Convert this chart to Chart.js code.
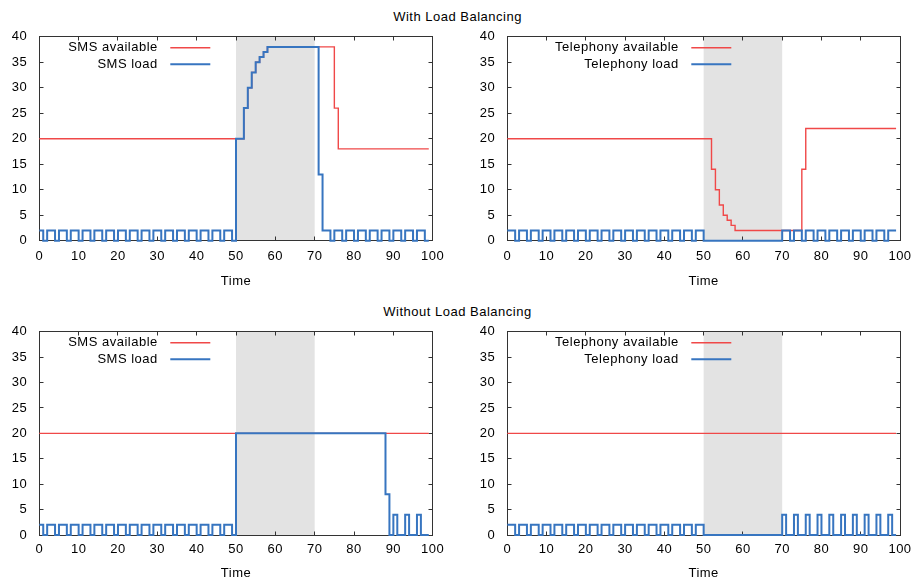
<!DOCTYPE html>
<html>
<head>
<meta charset="utf-8">
<title>Load balancing</title>
<script src="https://cdn.jsdelivr.net/npm/chart.js@4.4.1/dist/chart.umd.min.js"></script>
<style>
  body { margin: 0; background: #fff; }
  #page { position: relative; width: 915px; height: 581px; overflow: hidden; }
  canvas { position: absolute; }
  .title {
    position: absolute; left: 0; width: 915px; text-align: center;
    font: 13px "Liberation Sans", Arial, sans-serif; line-height: 14px;
    letter-spacing: 0.5px; color: #000;
  }
</style>
</head>
<body>
<div id="page">
  <div class="title" style="top: 9.5px">With Load Balancing</div>
  <div class="title" style="top: 304.5px">Without Load Balancing</div>
  <canvas id="smsLB" width="457" height="290" style="left:0;top:0"></canvas>
  <canvas id="telLB" width="458" height="290" style="left:457px;top:0"></canvas>
  <canvas id="smsNoLB" width="457" height="291" style="left:0;top:290px"></canvas>
  <canvas id="telNoLB" width="458" height="291" style="left:457px;top:290px"></canvas>
</div>
<script>
// sample times
const time = [
  0, 1, 2, 3, 4, 5, 6, 7, 8, 9,
  10, 11, 12, 13, 14, 15, 16, 17, 18, 19,
  20, 21, 22, 23, 24, 25, 26, 27, 28, 29,
  30, 31, 32, 33, 34, 35, 36, 37, 38, 39,
  40, 41, 42, 43, 44, 45, 46, 47, 48, 49,
  50, 51, 52, 53, 54, 55, 56, 57, 58, 59,
  60, 61, 62, 63, 64, 65, 66, 67, 68, 69,
  70, 71, 72, 73, 74, 75, 76, 77, 78, 79,
  80, 81, 82, 83, 84, 85, 86, 87, 88, 89,
  90, 91, 92, 93, 94, 95, 96, 97, 98, 99
];

// outage window (grey band)
const shadeRange = [50, 70];

// --- With load balancing ---
const smsAvailLB = [
  20, 20, 20, 20, 20, 20, 20, 20, 20, 20,
  20, 20, 20, 20, 20, 20, 20, 20, 20, 20,
  20, 20, 20, 20, 20, 20, 20, 20, 20, 20,
  20, 20, 20, 20, 20, 20, 20, 20, 20, 20,
  20, 20, 20, 20, 20, 20, 20, 20, 20, 20,
  20, 20, 26, 30, 33, 35, 36, 37, 38, 38,
  38, 38, 38, 38, 38, 38, 38, 38, 38, 38,
  38, 38, 38, 38, 38, 26, 18, 18, 18, 18,
  18, 18, 18, 18, 18, 18, 18, 18, 18, 18,
  18, 18, 18, 18, 18, 18, 18, 18, 18, 18
];
const smsLoadLB = [
  2, 0, 2, 2, 0, 2, 2, 0, 2, 2,
  0, 2, 2, 0, 2, 2, 0, 2, 2, 0,
  2, 2, 0, 2, 2, 0, 2, 2, 0, 2,
  2, 0, 2, 2, 0, 2, 2, 0, 2, 2,
  0, 2, 2, 0, 2, 2, 0, 2, 2, 0,
  20, 20, 26, 30, 33, 35, 36, 37, 38, 38,
  38, 38, 38, 38, 38, 38, 38, 38, 38, 38,
  38, 13, 2, 2, 0, 2, 2, 0, 2, 2,
  0, 2, 2, 0, 2, 2, 0, 2, 2, 0,
  2, 2, 0, 2, 2, 0, 2, 2, 0, 0
];
const telAvailLB = [
  20, 20, 20, 20, 20, 20, 20, 20, 20, 20,
  20, 20, 20, 20, 20, 20, 20, 20, 20, 20,
  20, 20, 20, 20, 20, 20, 20, 20, 20, 20,
  20, 20, 20, 20, 20, 20, 20, 20, 20, 20,
  20, 20, 20, 20, 20, 20, 20, 20, 20, 20,
  20, 20, 14, 10, 7, 5, 4, 3, 2, 2,
  2, 2, 2, 2, 2, 2, 2, 2, 2, 2,
  2, 2, 2, 2, 2, 14, 22, 22, 22, 22,
  22, 22, 22, 22, 22, 22, 22, 22, 22, 22,
  22, 22, 22, 22, 22, 22, 22, 22, 22, 22
];
const telLoadLB = [
  2, 2, 0, 2, 2, 0, 2, 2, 0, 2,
  2, 0, 2, 2, 0, 2, 2, 0, 2, 2,
  0, 2, 2, 0, 2, 2, 0, 2, 2, 0,
  2, 2, 0, 2, 2, 0, 2, 2, 0, 2,
  2, 0, 2, 2, 0, 2, 2, 0, 2, 2,
  0, 0, 0, 0, 0, 0, 0, 0, 0, 0,
  0, 0, 0, 0, 0, 0, 0, 0, 0, 0,
  2, 2, 0, 2, 2, 0, 2, 2, 0, 2,
  2, 0, 2, 2, 0, 2, 2, 0, 2, 2,
  0, 2, 2, 0, 2, 2, 0, 2, 2, 2
];

// --- Without load balancing ---
const smsAvailNoLB = [
  20, 20, 20, 20, 20, 20, 20, 20, 20, 20,
  20, 20, 20, 20, 20, 20, 20, 20, 20, 20,
  20, 20, 20, 20, 20, 20, 20, 20, 20, 20,
  20, 20, 20, 20, 20, 20, 20, 20, 20, 20,
  20, 20, 20, 20, 20, 20, 20, 20, 20, 20,
  20, 20, 20, 20, 20, 20, 20, 20, 20, 20,
  20, 20, 20, 20, 20, 20, 20, 20, 20, 20,
  20, 20, 20, 20, 20, 20, 20, 20, 20, 20,
  20, 20, 20, 20, 20, 20, 20, 20, 20, 20,
  20, 20, 20, 20, 20, 20, 20, 20, 20, 20
];
const smsLoadNoLB = [
  2, 0, 2, 2, 0, 2, 2, 0, 2, 2,
  0, 2, 2, 0, 2, 2, 0, 2, 2, 0,
  2, 2, 0, 2, 2, 0, 2, 2, 0, 2,
  2, 0, 2, 2, 0, 2, 2, 0, 2, 2,
  0, 2, 2, 0, 2, 2, 0, 2, 2, 0,
  20, 20, 20, 20, 20, 20, 20, 20, 20, 20,
  20, 20, 20, 20, 20, 20, 20, 20, 20, 20,
  20, 20, 20, 20, 20, 20, 20, 20, 20, 20,
  20, 20, 20, 20, 20, 20, 20, 20, 8, 0,
  4, 0, 0, 4, 0, 0, 4, 0, 0, 0
];
const telAvailNoLB = [
  20, 20, 20, 20, 20, 20, 20, 20, 20, 20,
  20, 20, 20, 20, 20, 20, 20, 20, 20, 20,
  20, 20, 20, 20, 20, 20, 20, 20, 20, 20,
  20, 20, 20, 20, 20, 20, 20, 20, 20, 20,
  20, 20, 20, 20, 20, 20, 20, 20, 20, 20,
  20, 20, 20, 20, 20, 20, 20, 20, 20, 20,
  20, 20, 20, 20, 20, 20, 20, 20, 20, 20,
  20, 20, 20, 20, 20, 20, 20, 20, 20, 20,
  20, 20, 20, 20, 20, 20, 20, 20, 20, 20,
  20, 20, 20, 20, 20, 20, 20, 20, 20, 20
];
const telLoadNoLB = [
  2, 2, 0, 2, 2, 0, 2, 2, 0, 2,
  2, 0, 2, 2, 0, 2, 2, 0, 2, 2,
  0, 2, 2, 0, 2, 2, 0, 2, 2, 0,
  2, 2, 0, 2, 2, 0, 2, 2, 0, 2,
  2, 0, 2, 2, 0, 2, 2, 0, 2, 2,
  0, 0, 0, 0, 0, 0, 0, 0, 0, 0,
  0, 0, 0, 0, 0, 0, 0, 0, 0, 0,
  4, 0, 0, 4, 0, 0, 4, 0, 0, 4,
  0, 0, 4, 0, 0, 4, 0, 0, 4, 0,
  0, 4, 0, 0, 4, 0, 0, 4, 0, 0
];

const RED = 'rgb(240, 72, 72)';
const BLUE = 'rgb(55, 117, 192)';
const FONT = { family: '"Liberation Sans", Arial, sans-serif', size: 13 };

// gnuplot-ish frame: grey band, border with inward ticks, key on the left
const frame = {
  id: 'frame',
  beforeDraw(chart) {
    chart.ctx.letterSpacing = '0.5px';
  },
  beforeDatasetsDraw(chart) {
    const { ctx, chartArea: a, scales: { x, y } } = chart;
    ctx.save();
    const x0 = x.getPixelForValue(shadeRange[0]);
    const x1 = x.getPixelForValue(shadeRange[1]);
    ctx.fillStyle = '#e3e3e3';
    ctx.fillRect(x0, a.top, x1 - x0, a.bottom - a.top);

    // snap the frame to whole pixels so it stays crisp
    const L = Math.floor(a.left) + 0.5, R = Math.floor(a.right) + 0.5;
    const T = Math.floor(a.top) + 0.5, B = Math.floor(a.bottom) + 0.5;
    ctx.strokeStyle = '#333';
    ctx.lineWidth = 1;
    ctx.strokeRect(L, T, R - L, B - T);
    ctx.beginPath();
    x.ticks.forEach(t => {
      const px = Math.floor(x.getPixelForValue(t.value)) + 0.5;
      ctx.moveTo(px, B); ctx.lineTo(px, B - 4);
      ctx.moveTo(px, T); ctx.lineTo(px, T + 4);
    });
    y.ticks.forEach(t => {
      const py = Math.floor(y.getPixelForValue(t.value)) + 0.5;
      ctx.moveTo(L, py); ctx.lineTo(L + 4, py);
      ctx.moveTo(R, py); ctx.lineTo(R - 4, py);
    });
    ctx.stroke();
    ctx.restore();
  },
  afterDatasetsDraw(chart, args, opts) {
    const { ctx, chartArea: a } = chart;
    ctx.save();
    ctx.font = '13px "Liberation Sans", Arial, sans-serif';
    ctx.textAlign = 'right';
    ctx.textBaseline = 'middle';
    chart.data.datasets.forEach((ds, i) => {
      const yy = a.top + 11 + i * 16.6;
      const sx = a.left + opts.keyX;
      ctx.fillStyle = '#000';
      ctx.fillText(ds.label, sx - 12.5, yy);
      ctx.strokeStyle = ds.borderColor;
      ctx.lineWidth = ds.borderWidth;
      ctx.beginPath();
      ctx.moveTo(sx, yy);
      ctx.lineTo(sx + 40, yy);
      ctx.stroke();
    });
    ctx.restore();
  }
};

function makeChart(id, names, avail, load, box) {
  return new Chart(document.getElementById(id), {
    type: 'line',
    data: {
      labels: time,
      datasets: [
        { label: names[0], data: avail, borderColor: RED, borderWidth: 1.4, stepped: 'before',
          pointRadius: 0, fill: false, order: 1, clip: false },
        { label: names[1], data: load, borderColor: BLUE, borderWidth: 2, stepped: 'before',
          pointRadius: 0, fill: false, order: 0, clip: false }
      ]
    },
    options: {
      responsive: false,
      animation: false,
      events: [],
      layout: { padding: { left: 0, top: box.top, right: box.right, bottom: 0 } },
      scales: {
        x: {
          type: 'linear', min: 0, max: 100,
          ticks: { stepSize: 10, padding: box.tickPad, color: '#000', font: FONT, maxRotation: 0, autoSkip: false },
          grid: { display: false, drawTicks: false },
          border: { display: false },
          title: { display: true, text: 'Time', color: '#000', font: FONT, padding: { top: 0, bottom: box.titlePad } },
          afterFit: s => { s.height = box.xHeight; s.paddingLeft = 0; s.paddingRight = 0; }
        },
        y: {
          min: 0, max: 40,
          ticks: { stepSize: 5, padding: 12, color: '#000', font: FONT },
          grid: { display: false, drawTicks: false },
          border: { display: false },
          afterFit: s => { s.width = box.yWidth; s.paddingTop = 0; s.paddingBottom = 0; }
        }
      },
      plugins: {
        legend: { display: false },
        tooltip: { enabled: false },
        frame: { keyX: box.keyX }
      }
    },
    plugins: [frame]
  });
}

const topLeft = { top: 36.7, right: 24.3, yWidth: 39.3, xHeight: 49.3, tickPad: 8, titlePad: 0.5, keyX: 131 };
const topRight = { top: 36.7, right: 15, yWidth: 50.3, xHeight: 49.3, tickPad: 8, titlePad: 0.5, keyX: 184 };
const botLeft = { top: 41.7, right: 24.3, yWidth: 39.3, xHeight: 46, tickPad: 7, titlePad: 0, keyX: 131 };
const botRight = { top: 41.7, right: 15, yWidth: 50.3, xHeight: 46, tickPad: 7, titlePad: 0, keyX: 184 };

makeChart('smsLB', ['SMS available', 'SMS load'], smsAvailLB, smsLoadLB, topLeft);
makeChart('telLB', ['Telephony available', 'Telephony load'], telAvailLB, telLoadLB, topRight);
makeChart('smsNoLB', ['SMS available', 'SMS load'], smsAvailNoLB, smsLoadNoLB, botLeft);
makeChart('telNoLB', ['Telephony available', 'Telephony load'], telAvailNoLB, telLoadNoLB, botRight);
</script>
</body>
</html>
